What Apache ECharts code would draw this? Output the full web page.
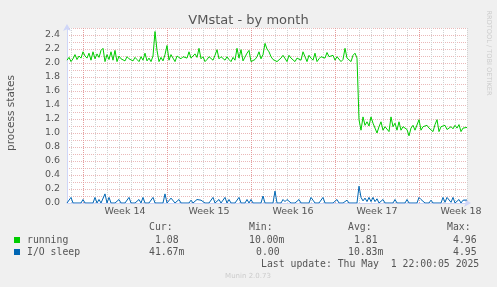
<!DOCTYPE html>
<html>
<head>
<meta charset="utf-8">
<script src="https://cdn.jsdelivr.net/npm/echarts@6/dist/echarts.min.js"></script>
<style>
html,body{margin:0;padding:0;background:#F0F0F0;}
#c{width:497px;height:287px;}
</style>
</head>
<body>
<div id="c"></div>
<script>
// ---- data (4-hour samples, 2025-03-29 16:00 UTC onward) ----
const startTime = Date.UTC(2025, 2, 29, 16, 0, 0);
const stepHours = 4;

const running = [
  2.04,2.08,2.02,2.06,2.12,2.05,2.10,2.07,2.16,2.10,
  2.07,2.14,2.04,2.16,2.06,2.13,2.08,2.18,2.21,2.02,
  2.12,2.05,2.16,2.04,2.18,2.02,2.10,2.06,2.08,2.03,
  2.09,2.06,2.07,2.03,2.08,2.05,2.02,2.09,2.04,2.14,
  2.03,2.07,2.02,2.10,2.45,2.18,2.02,2.08,2.03,2.12,
  2.25,2.04,2.12,2.07,2.02,2.10,2.12,2.06,2.09,2.10,
  2.07,2.16,2.07,2.10,2.13,2.08,2.21,2.06,2.09,2.02,
  2.05,2.09,2.07,2.04,2.11,2.19,2.06,2.09,2.07,2.04,
  2.09,2.05,2.02,2.08,2.04,2.21,2.07,2.19,2.03,2.02,
  2.14,2.18,2.02,2.00,2.05,2.09,2.16,2.06,2.12,2.28,
  2.20,2.16,2.09,2.05,2.07,2.02,2.01,2.07,2.11,2.09,
  2.02,2.11,2.07,2.09,2.02,2.07,2.05,2.04,2.16,2.09,
  2.02,2.11,2.07,2.04,2.14,2.02,2.06,2.09,2.11,2.07,
  2.15,2.09,2.10,2.11,2.04,2.09,2.08,2.02,2.05,2.21,
  2.07,2.09,2.02,2.11,2.14,2.07,1.19,1.04,1.23,1.11,
  1.16,1.10,1.23,1.14,1.07,1.00,1.09,1.16,1.04,1.09,
  1.11,1.02,1.23,1.09,1.14,1.04,1.16,1.04,1.09,1.11,
  1.05,0.96,1.07,1.11,1.04,1.06,1.19,1.04,1.09,1.07,
  1.11,1.07,1.05,1.02,1.12,1.19,1.02,1.09,1.07,1.11,
  1.05,1.04,1.09,1.06,1.11,1.07,1.12,1.02,1.07,1.05,
  1.08
];

const ioSleep = [
  0,0,0.08,0,0,0,0,0,0.05,0,
  0,0,0,0,0.08,0,0.05,0,0,0.13,
  0,0.08,0,0,0,0,0.05,0,0,0,
  0,0.08,0,0,0,0,0.05,0,0.08,0,
  0,0,0,0.08,0,0,0,0,0,0.13,
  0,0,0.07,0.08,0,0,0.05,0,0,0,
  0,0,0.04,0,0,0.05,0.05,0.04,0.05,0,
  0,0,0,0.08,0,0,0.05,0,0,0.08,
  0,0.05,0,0,0,0,0.08,0,0,0,
  0.05,0,0.05,0,0,0,0,0,0.10,0,
  0,0,0,0,0.17,0,0,0,0.05,0.02,
  0.05,0.04,0,0,0,0,0.05,0,0,0,
  0,0,0.08,0.04,0,0,0,0,0.08,0,
  0,0,0,0,0,0.05,0,0,0,0,
  0.04,0,0,0,0,0,0.24,0.08,0.03,0.07,
  0.02,0.08,0.02,0.08,0.02,0.06,0,0,0.05,0,
  0,0,0,0,0.05,0,0,0,0,0,
  0.05,0,0,0,0,0,0.08,0.05,0.04,0,
  0,0,0.04,0,0,0,0,0,0.08,0.01,
  0.08,0.08,0.01,0.08,0,0,0.05,0,0.04,0.045,
  0.042
];

const yTickLabels = ['0.0','0.2','0.4','0.6','0.8','1.0','1.2','1.4','1.6','1.8','2.0','2.2','2.4'];

const seriesNames = ['running', 'I/O sleep'];
const seriesColors = ['#00CC00', '#0066B3'];
const colHeaders = ['Cur:', 'Min:', 'Avg:', 'Max:'];
const runningStats = ['1.08', '10.00m', '1.81', '4.96'];
const ioSleepStats = ['41.67m', '0.00', '10.83m', '4.95'];
const lastUpdate = 'Last update: Thu May  1 22:00:05 2025';

// ---- derived axis categories ----
const times = running.map((_, i) => startTime + i * stepHours * 3600 * 1000);
const pad = n => (n < 10 ? '0' : '') + n;
const categories = times.map(t => {
  const d = new Date(t);
  return d.getUTCFullYear() + '-' + pad(d.getUTCMonth() + 1) + '-' + pad(d.getUTCDate()) + ' ' + pad(d.getUTCHours()) + ':00';
});
function isoWeek(d) {
  const t = new Date(Date.UTC(d.getUTCFullYear(), d.getUTCMonth(), d.getUTCDate()));
  const day = t.getUTCDay() || 7;
  t.setUTCDate(t.getUTCDate() + 4 - day);
  const yStart = new Date(Date.UTC(t.getUTCFullYear(), 0, 1));
  return Math.ceil(((t - yStart) / 86400000 + 1) / 7);
}
const isDayStart = i => { const d = new Date(times[i]); return d.getUTCHours() === 0 && d.getUTCDay() !== 1; };
const isWeekStart = i => { const d = new Date(times[i]); return d.getUTCHours() === 0 && d.getUTCDay() === 1; };
const isWeekMid = i => { const d = new Date(times[i]); return d.getUTCHours() === 12 && d.getUTCDay() === 4; };

const MONO = 'DejaVu Sans Mono';
const SANS = 'DejaVu Sans';
const TXT = '#555555';
const AXIS = '#CFD6F8';

const chart = echarts.init(document.getElementById('c'), null, {renderer: 'canvas'});

function txt(x, y, s, opts) {
  return {
    type: 'text', x: x, y: y, silent: true,
    style: Object.assign({text: s, fill: TXT, font: '9.8px ' + MONO, textAlign: 'left', textVerticalAlign: 'middle'}, opts || {})
  };
}

const headerX = [149, 249, 348, 447];
const row1X = [155, 249, 354, 453];
const row2X = [149, 256, 348, 453];
const graphics = [
  txt(248, 276, 'Munin 2.0.73', {fill: '#cccccc', font: '7px ' + SANS, textAlign: 'center'}),
  {type: 'text', x: 11, y: 113, rotation: Math.PI / 2, silent: true,
   style: {text: 'process states', fill: TXT, font: '10.5px ' + SANS, textAlign: 'center', textVerticalAlign: 'middle'}},
  {type: 'text', x: 488.5, y: 53, rotation: -Math.PI / 2, silent: true,
   style: {text: 'RRDTOOL / TOBI OETIKER', fill: '#cccccc', font: '6.6px ' + SANS, textAlign: 'center', textVerticalAlign: 'middle'}},
  {type: 'rect', shape: {x: 14, y: 237, width: 6, height: 6}, style: {fill: seriesColors[0]}, silent: true},
  {type: 'rect', shape: {x: 14, y: 249, width: 6, height: 6}, style: {fill: seriesColors[1]}, silent: true},
  txt(27, 240, seriesNames[0]),
  txt(27, 252, seriesNames[1]),
  txt(261, 264, lastUpdate)
];
colHeaders.forEach((h, k) => graphics.push(txt(headerX[k], 227, h)));
runningStats.forEach((v, k) => graphics.push(txt(row1X[k], 240, v)));
ioSleepStats.forEach((v, k) => graphics.push(txt(row2X[k], 252, v)));

const option = {
  backgroundColor: '#F0F0F0',
  animation: false,
  title: {
    text: 'VMstat - by month', left: 'center', top: 9,
    textStyle: {color: '#555555', fontFamily: SANS, fontSize: 13, fontWeight: 'normal'}
  },
  grid: {left: 67, top: 28, width: 400, height: 175, show: true, backgroundColor: '#ffffff', borderWidth: 0, containLabel: false},
  xAxis: [
    {
      type: 'category', data: categories, boundaryGap: false, position: 'bottom',
      axisLine: {show: true, lineStyle: {color: AXIS, width: 1}, symbol: ['none', 'arrow'], symbolSize: [6, 7], symbolOffset: [0, 4]},
      axisTick: {show: false},
      axisLabel: {
        interval: i => isWeekMid(i),
        formatter: (v, i) => 'Week ' + isoWeek(new Date(times[i])),
        color: TXT, fontFamily: SANS, fontSize: 9.5, margin: 4
      },
      splitLine: {show: true, interval: i => isDayStart(i), lineStyle: {color: '#d2d2d2', width: 1, type: [1, 1]}},
      z: 3
    },
    {
      type: 'category', data: categories, boundaryGap: false, position: 'bottom',
      axisLine: {show: false}, axisTick: {show: false}, axisLabel: {show: false},
      splitLine: {show: true, interval: i => isWeekStart(i), lineStyle: {color: '#e49c9c', width: 1, type: [1, 1]}},
      z: 4
    }
  ],
  yAxis: {
    type: 'value', min: 0, max: 2.5, interval: 0.1,
    axisLine: {show: true, lineStyle: {color: AXIS, width: 1}, symbol: ['none', 'arrow'], symbolSize: [6, 7], symbolOffset: [0, 4]},
    axisTick: {show: false},
    axisLabel: {
      color: TXT, fontFamily: SANS, fontSize: 9.5, margin: 7,
      formatter: v => { const k = Math.round(v * 10); return k % 2 === 0 ? yTickLabels[k / 2] || '' : ''; }
    },
    splitLine: {show: true, lineStyle: {color: '#eab8b8', width: 1, type: [1, 1]}}
  },
  series: [
    {name: seriesNames[0], type: 'line', data: running, xAxisIndex: 0, showSymbol: false, symbol: 'none',
     lineStyle: {color: seriesColors[0], width: 1}, itemStyle: {color: seriesColors[0]}, z: 5},
    {name: seriesNames[1], type: 'line', data: ioSleep, xAxisIndex: 0, showSymbol: false, symbol: 'none',
     lineStyle: {color: seriesColors[1], width: 1}, itemStyle: {color: seriesColors[1]}, z: 5}
  ],
  graphic: graphics
};
chart.setOption(option);
</script>
</body>
</html>
